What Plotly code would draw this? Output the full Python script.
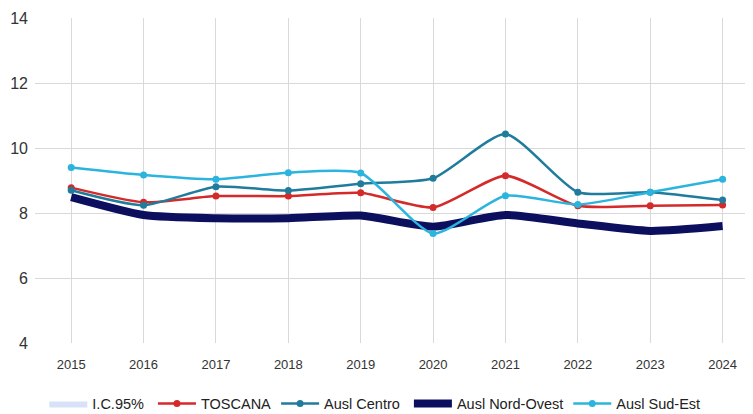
import plotly.graph_objects as go

years = [2015, 2016, 2017, 2018, 2019, 2020, 2021, 2022, 2023, 2024]
toscana = [8.78, 8.33, 8.52, 8.52, 8.62, 8.17, 9.15, 8.22, 8.22, 8.25]
centro = [8.70, 8.24, 8.81, 8.69, 8.90, 9.07, 10.43, 8.64, 8.64, 8.40]
nord_ovest = [8.49, 7.94, 7.84, 7.84, 7.92, 7.58, 7.94, 7.68, 7.45, 7.60]
nord_ovest_lo = [8.39, 7.86, 7.76, 7.76, 7.84, 7.49, 7.86, 7.60, 7.37, 7.52]
nord_ovest_hi = [8.59, 8.02, 7.92, 7.92, 8.00, 7.67, 8.02, 7.76, 7.53, 7.68]
sud_est = [9.40, 9.17, 9.04, 9.24, 9.23, 7.37, 8.53, 8.26, 8.64, 9.04]

SM = 0.6
NB = "\u00a0"
fig = go.Figure()
fig.add_trace(go.Scatter(x=years, y=nord_ovest_lo, mode="lines",
                         line=dict(width=0, shape="spline", smoothing=SM),
                         showlegend=False, hoverinfo="skip"))
fig.add_trace(go.Scatter(x=years, y=nord_ovest_hi, mode="lines",
                         line=dict(width=0, shape="spline", smoothing=SM),
                         fill="tonexty", fillcolor="rgba(205,218,245,0.8)", name="I.C.95%" + NB))
fig.add_trace(go.Scatter(x=years, y=toscana, mode="lines+markers", name="TOSCANA",
                         line=dict(color="#d42a2a", width=2.5, shape="spline", smoothing=SM),
                         marker=dict(size=7, color="#d42a2a")))
fig.add_trace(go.Scatter(x=years, y=centro, mode="lines+markers", name="Ausl Centro" + NB,
                         line=dict(color="#1f7c9c", width=2.5, shape="spline", smoothing=SM),
                         marker=dict(size=7, color="#1f7c9c")))
fig.add_trace(go.Scatter(x=years, y=nord_ovest, mode="lines", name="Ausl Nord-Ovest",
                         line=dict(color="#0b0f5e", width=8, shape="spline", smoothing=SM)))
fig.add_trace(go.Scatter(x=years, y=sud_est, mode="lines+markers", name="Ausl Sud-Est",
                         line=dict(color="#2bb5de", width=2.5, shape="spline", smoothing=SM),
                         marker=dict(size=7, color="#2bb5de")))

fig.update_layout(
    width=753, height=414,
    margin=dict(l=27, r=8, t=10, b=79, autoexpand=False),
    paper_bgcolor="white", plot_bgcolor="white",
    font=dict(family="Liberation Sans, Arial", color="#333333"),
    legend=dict(orientation="h", x=0.013, xanchor="left", y=-0.137, yanchor="top",
                font=dict(size=14.5, color="#222222"), itemwidth=38, traceorder="normal"),
    xaxis=dict(range=[2014.5, 2024.42], tickmode="array", tickvals=years,
               ticktext=[str(y) for y in years], showgrid=True, gridcolor="#d9d9d9",
               zeroline=False, showline=False, ticks="", ticklabelstandoff=12,
               automargin=False, tickfont=dict(size=13, color="#333333")),
    yaxis=dict(range=[4, 14], tickvals=[4, 6, 8, 10, 12, 14], showgrid=True,
               gridcolor="#d9d9d9", zeroline=False, showline=False, ticks="",
               ticklabelstandoff=6, automargin=False,
               tickfont=dict(size=16, color="#333333")),
)

fig.write_html("out.html")
